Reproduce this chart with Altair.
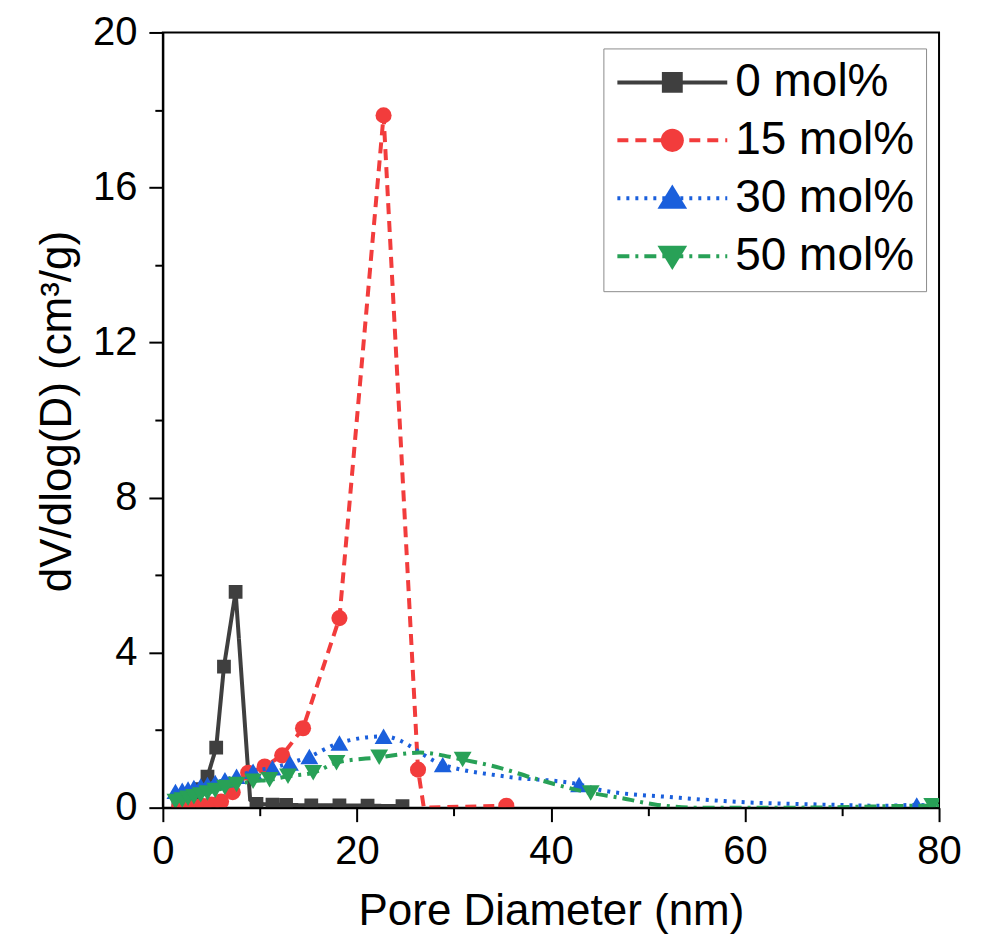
import altair as alt
import pandas as pd

SERIES = ["0 mol%", "15 mol%", "30 mol%", "50 mol%"]
COLORS = ["#3f3f3f", "#f23c3c", "#1a5fdc", "#28a157"]
DASHES = [[1, 0], [11, 7], [3, 6], [12, 6, 3, 6]]
SHAPES = ["square", "circle", "triangle-up", "triangle-down"]
SIZES = [190, 260, 320, 320]
INTERP = ["linear", "linear", "monotone", "monotone"]
# legend glyphs, drawn in the same wide unit box (-1..1)
LEGEND_LINE = "M-1,0H1"
LEGEND_MARKERS = [
    "M-0.19,-0.19H0.19V0.19H-0.19Z",
    "M0.21,0A0.21,0.21,0,1,1,-0.21,0A0.21,0.21,0,1,1,0.21,0Z",
    "M0,-0.25L0.27,0.19H-0.27Z",
    "M0,0.25L0.27,-0.19H-0.27Z",
]

# 0 mol%
X0 = [1.6, 2.3, 3.0, 3.8, 4.6, 5.5, 6.3, 7.5, 9.0, 9.65, 11.3, 12.7, 15.3, 18.2, 21.1, 24.7]
Y0 = [0.15, 0.22, 0.32, 0.48, 0.8, 1.55, 3.64, 5.57, 0.2, 0.1, 0.08, 0.07, 0.06, 0.06, 0.05, 0.04]
M0 = [1, 1, 1, 1, 1, 1, 1, 1, 0, 1, 1, 1, 1, 1, 1, 1]
# 15 mol%
X1 = [1.7, 2.5, 3.4, 4.2, 5.0, 6.0, 7.2, 8.8, 10.5, 12.3, 14.45, 18.2, 22.75, 26.3, 26.9, 35.4]
Y1 = [0.02, 0.02, 0.02, 0.04, 0.08, 0.16, 0.4, 0.9, 1.06, 1.35, 2.05, 4.89, 17.86, 0.98, 0.0, 0.05]
M1 = [1, 1, 1, 1, 1, 1, 1, 1, 1, 1, 1, 1, 1, 1, 0, 1]
# 30 mol%
X2 = [1.3, 2.0, 2.6, 3.2, 3.9, 4.6, 5.4, 6.4, 7.6, 9.3, 11.3, 13.1, 15.1, 18.2, 22.75, 28.85,
      35.4, 42.9, 45.0, 53.0, 60.0, 68.0, 74.0, 77.7, 80.0]
Y2 = [0.42, 0.45, 0.48, 0.52, 0.56, 0.6, 0.65, 0.72, 0.81, 0.94, 1.03, 1.15, 1.32, 1.67, 1.84, 1.11,
      0.8, 0.6, 0.46, 0.26, 0.14, 0.08, 0.05, 0.07, 0.02]
M2 = [1, 1, 1, 1, 1, 1, 1, 1, 1, 1, 1, 1, 1, 1, 1, 1,
      0, 1, 0, 0, 0, 0, 0, 1, 0]
# 50 mol%
X3 = [1.3, 2.0, 2.6, 3.2, 3.9, 4.6, 5.4, 6.4, 7.6, 9.3, 11.0, 12.9, 15.5, 17.9, 22.3, 26.5,
      30.9, 34.4, 38.1, 44.1, 47.0, 51.0, 55.0, 65.0, 79.3, 80.0]
Y3 = [0.16, 0.2, 0.24, 0.28, 0.33, 0.38, 0.44, 0.52, 0.6, 0.68, 0.72, 0.81, 0.9, 1.16, 1.3, 1.42,
      1.24, 1.05, 0.77, 0.38, 0.26, 0.07, 0.0, 0.0, 0.05, 0.05]
M3 = [1, 1, 1, 1, 1, 1, 1, 1, 1, 1, 1, 1, 1, 1, 1, 0,
      1, 0, 0, 1, 0, 0, 0, 0, 1, 0]

XS = [X0, X1, X2, X3]
YS = [Y0, Y1, Y2, Y3]
MS = [M0, M1, M2, M3]

FONT = "Liberation Sans"

x_axis = alt.Axis(
    values=list(range(0, 81, 10)),
    labelExpr="datum.value % 20 === 0 ? datum.label : ''",
    tickSize={"condition": {"test": "datum.value % 20 === 0", "value": 14}, "value": 8},
    tickWidth=2, tickColor="black", domainColor="black", domainWidth=2,
    labelFontSize=40, labelFont=FONT, labelColor="black", labelPadding=10, labelFlush=False,
    title="Pore Diameter (nm)", titleFontSize=44, titleFont=FONT, titleFontWeight="normal",
    titleColor="black", titlePadding=18, grid=False, zindex=1,
)
y_axis = alt.Axis(
    values=list(range(0, 21, 2)),
    labelExpr="datum.value % 4 === 0 ? datum.label : ''",
    tickSize={"condition": {"test": "datum.value % 4 === 0", "value": 14}, "value": 8},
    tickWidth=2, tickColor="black", domainColor="black", domainWidth=2,
    labelFontSize=40, labelFont=FONT, labelColor="black", labelPadding=12, labelFlush=False,
    title="dV/dlog(D) (cm³/g)", titleFontSize=44, titleFont=FONT, titleFontWeight="normal",
    titleColor="black", titlePadding=13, titleY=379, grid=False, zindex=1,
)

x_enc = alt.X("x:Q", scale=alt.Scale(domain=[0, 80], nice=False, zero=False), axis=x_axis)
y_enc = alt.Y("y:Q", scale=alt.Scale(domain=[0, 20], nice=False), axis=y_axis)

# the marker legend is keyed on a copy of the names so that it stays a separate legend
SERIES_M = [s + " " for s in SERIES]

layers = []
rows = []
for i, name in enumerate(SERIES):
    df = pd.DataFrame({"x": XS[i], "y": YS[i], "m": MS[i], "series": name, "series_m": SERIES_M[i]})
    rows.append(df)
    layers.append(
        alt.Chart(df).mark_line(
            color=COLORS[i], strokeDash=DASHES[i], strokeWidth=4,
            interpolate=INTERP[i], clip=True,
        ).encode(x=x_enc, y=y_enc)
    )
    layers.append(
        alt.Chart(df[df["m"] == 1]).mark_point(
            shape=SHAPES[i], filled=True, size=SIZES[i], color=COLORS[i],
            opacity=1, clip=True,
        ).encode(x=x_enc, y=y_enc)
    )

all_df = pd.concat(rows, ignore_index=True)
common = dict(
    title=None, orient="none", legendX=441, legendY=16,
    symbolSize=12100, symbolOpacity=1, clipHeight=44, symbolStrokeWidth=4,
    labelFontSize=46, labelFont=FONT, labelColor="black", labelOffset=6, labelLimit=0,
    rowPadding=12, padding=12,
)
# legend 1: the line glyphs (stroke + dash) with the labels and the frame
leg_line = alt.Legend(symbolType=LEGEND_LINE,
                      strokeColor="#8c8c8c", fillColor="white", **common)
# legend 2: only the marker glyphs, laid exactly over legend 1
leg_mark = alt.Legend(symbolStrokeColor="transparent", labelExpr="''", **common)

line_legend_layer = alt.Chart(all_df).transform_filter("datum.x < 0").mark_point(
    filled=False, opacity=1, strokeWidth=4
).encode(
    x=x_enc, y=y_enc,
    stroke=alt.Stroke("series:N", scale=alt.Scale(domain=SERIES, range=COLORS), legend=leg_line),
    strokeDash=alt.StrokeDash("series:N", scale=alt.Scale(domain=SERIES, range=DASHES), legend=leg_line),
)
mark_legend_layer = alt.Chart(all_df).transform_filter("datum.x < 0").mark_point(
    filled=True, opacity=1
).encode(
    x=x_enc, y=y_enc,
    fill=alt.Fill("series_m:N", scale=alt.Scale(domain=SERIES_M, range=COLORS), legend=leg_mark),
    shape=alt.Shape("series_m:N", scale=alt.Scale(domain=SERIES_M, range=LEGEND_MARKERS), legend=leg_mark),
)
layers.append(line_legend_layer)
layers.append(mark_legend_layer)

chart = alt.layer(*layers).properties(
    width=777, height=776,
    autosize=alt.AutoSizeParams(type="none"),
    padding={"left": 155, "top": 24, "right": 40, "bottom": 130},
).configure(font=FONT).configure_view(stroke="black", strokeWidth=2)

chart.save("out.html", embed_options={"renderer": "svg", "actions": False})
